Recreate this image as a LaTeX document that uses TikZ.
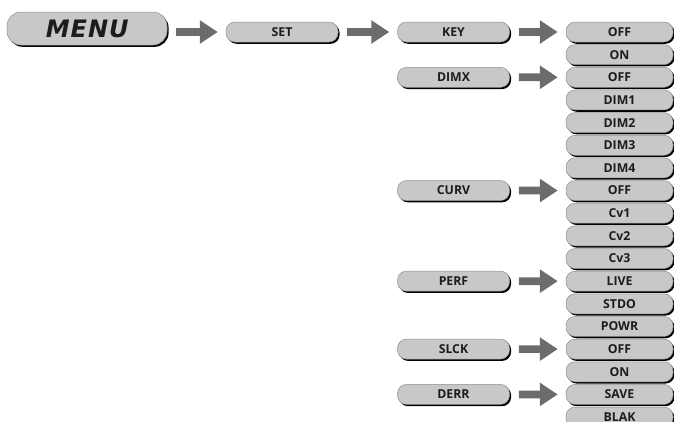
\documentclass[tikz,border=0pt]{standalone}
\usepackage{fontspec}
\setmainfont{Open Sans}
\newfontfamily\menufont{DejaVu Sans}
\usetikzlibrary{shadows,arrows.meta}
\definecolor{boxfill}{HTML}{C8C8C8}
\definecolor{boxline}{HTML}{8E8E8E}
\definecolor{arrowgray}{HTML}{6C6C6C}
\definecolor{txt}{HTML}{1C1C1C}
\tikzset{
  btn/.style={rectangle, rounded corners=9pt, fill=boxfill, draw=boxline, line width=0.5pt,
    minimum height=20pt, inner sep=0pt, text=txt,
    font=\fontsize{12.3}{13}\selectfont\bfseries,
    drop shadow={shadow xshift=1.6pt, shadow yshift=-1.8pt, fill=black, opacity=1}},
  midbtn/.style={btn, minimum width=112pt},
  rightbtn/.style={btn, minimum width=107pt},
  menubtn/.style={btn, rounded corners=14pt, minimum width=160pt, minimum height=33pt,
    font=\menufont\fontsize{24}{25}\selectfont\bfseries\itshape},
  bigarrow/.style={draw=arrowgray, fill=arrowgray, line width=7.7pt,
    -{Triangle[length=18pt,width=22.5pt]}, shorten <=9pt, shorten >=8pt}
}
\begin{document}
\begin{tikzpicture}[x=1pt,y=-1pt]
\useasboundingbox (0,0) rectangle (674,421);
\clip (0,0) rectangle (674,421);
\node[menubtn] (menu) at (87,28.5) {\kern0.5pt M\kern1pt E\kern1pt N\kern1pt U};
\node[midbtn] (set) at (282,32) {SET};
% left column
\node[midbtn] (key)  at (453.5,32) {KEY};
\node[midbtn] (dimx) at (453.5,77.3) {DIMX};
\node[midbtn] (curv) at (453.5,190.55) {CURV};
\node[midbtn] (perf) at (453.5,281.15) {PERF};
\node[midbtn] (slck) at (453.5,349.1) {SLCK};
\node[midbtn] (derr) at (453.5,394.4) {DERR};
% right column
\foreach \lab [count=\i from 0] in {OFF,ON,OFF,DIM1,DIM2,DIM3,DIM4,OFF,Cv1,Cv2,Cv3,LIVE,STDO,POWR,OFF,ON,SAVE,BLAK}{
  \node[rightbtn] (r\i) at (619.5,32+22.65*\i) {\lab};
}
% arrows
\draw[bigarrow] (menu.east |- set.west) -- (set.west);
\draw[bigarrow] (set) -- (key);
\draw[bigarrow] (key) -- (r0);
\draw[bigarrow] (dimx) -- (r2);
\draw[bigarrow] (curv) -- (r7);
\draw[bigarrow] (perf) -- (r11);
\draw[bigarrow] (slck) -- (r14);
\draw[bigarrow] (derr) -- (r16);
\end{tikzpicture}
\end{document}
